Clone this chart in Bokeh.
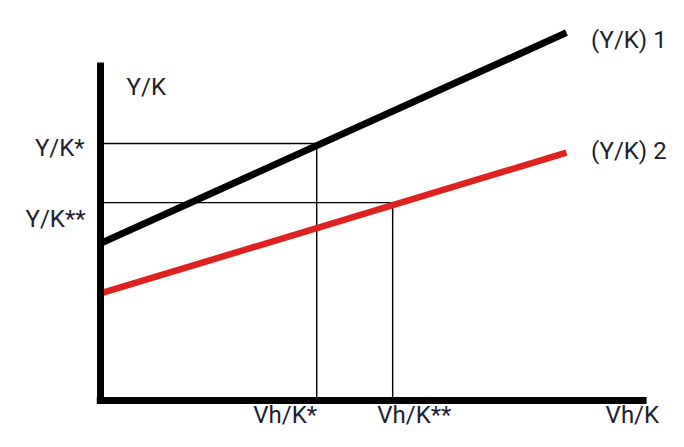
from bokeh.plotting import figure
from bokeh.models import Range1d, ColumnDataSource
from bokeh.core.properties import value
from bokeh.embed import file_html
from bokeh.resources import INLINE

# ---- data (abstract diagram units) ----
line_x = [0.0, 10.0]
line1_y = [4.62, 10.82]        # (Y/K) 1
line2_y = [3.15, 7.29]         # (Y/K) 2
star_x, star_y = 4.64, 7.56          # Vh/K*,  Y/K*
dstar_x, dstar_y = 6.27, 5.82        # Vh/K**, Y/K**
x_axis_end = 11.72
y_axis_top = 9.94

label_text = ["Y/K", "Y/K*", "Y/K**", "Vh/K*", "Vh/K**", "Vh/K", "(Y/K) 1", "(Y/K) 2"]

FONT = "Roboto"
TXT = "#1e1e2c"

p = figure(width=668, height=431, output_backend="svg", toolbar_location=None,
           x_range=Range1d(-2.146, 12.19), y_range=Range1d(-0.912, 11.765),
           min_border=0, outline_line_color=None)
p.axis.visible = False
p.grid.visible = False

# thin guide lines
p.line([0, star_x], [star_y, star_y], line_color="black", line_width=1.4)
p.line([star_x, star_x], [0, star_y], line_color="black", line_width=1.4)
p.line([0, dstar_x], [dstar_y, dstar_y], line_color="black", line_width=1.4)
p.line([dstar_x, dstar_x], [0, dstar_y], line_color="black", line_width=1.4)

# curves
p.line(line_x, line1_y, line_color="black", line_width=7)
p.line(line_x, line2_y, line_color="#e0221f", line_width=6.5)

# axes drawn as thick lines
p.line([0, 0], [-0.1, y_axis_top], line_color="black", line_width=7)
p.line([-0.08, x_axis_end], [0, 0], line_color="black", line_width=7)

# labels
src = ColumnDataSource(dict(
    x=[0.56, -0.34, -0.32, 3.28, 5.94, 10.84, 12.15, 12.15],
    y=[9.21, 7.44, 5.35, -0.44, -0.44, -0.44, 10.59, 7.35],
    text=label_text,
    align=["left", "right", "right", "left", "left", "left", "right", "right"],
))
p.text(x="x", y="y", text="text", text_align="align", text_baseline="alphabetic",
       text_font=value(FONT), text_font_size="24px", text_color=TXT, source=src)

open("out.html", "w").write(file_html(p, INLINE))
